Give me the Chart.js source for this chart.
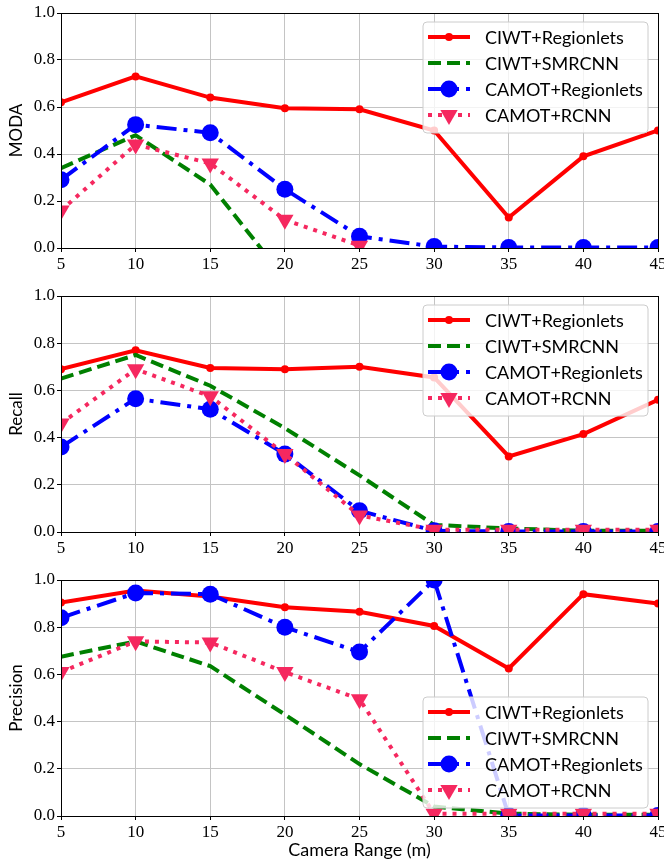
<!DOCTYPE html>
<html>
<head>
<meta charset="utf-8">
<script src="https://cdn.jsdelivr.net/npm/chart.js@4.4.0/dist/chart.umd.min.js"></script>
<style>
  html, body { margin: 0; padding: 0; background: #fff; width: 664px; height: 865px; overflow: hidden; }
  .panel { position: absolute; left: 0; width: 680px; }
</style>
</head>
<body>
<div class="panel" style="top:0;height:282px"><canvas id="modaChart" width="680" height="282"></canvas></div>
<div class="panel" style="top:282px;height:284px"><canvas id="recallChart" width="680" height="284"></canvas></div>
<div class="panel" style="top:566px;height:299px"><canvas id="precisionChart" width="680" height="299"></canvas></div>
<script>
// Camera range (m) on the x axis
const ranges = [5, 10, 15, 20, 25, 30, 35, 40, 45];
const yTicks = [0, 0.2, 0.4, 0.6, 0.8, 1.0];
const methods = ['CIWT+Regionlets', 'CIWT+SMRCNN', 'CAMOT+Regionlets', 'CAMOT+RCNN'];

// MODA (SMRCNN and RCNN drop below zero, out of view)
const modaCiwtRegionlets  = [0.62, 0.73, 0.64, 0.595, 0.59, 0.50, 0.13, 0.39, 0.50];
const modaCiwtSmrcnn      = [0.34, 0.48, 0.27, -0.13, -0.6, -1.1, -1.4, -1.6, -1.7];
const modaCamotRegionlets = [0.29, 0.525, 0.49, 0.25, 0.05, 0.006, 0.002, 0.002, 0.002];
const modaCamotRcnn       = [0.16, 0.44, 0.36, 0.12, 0.01, -0.3, -0.5, -0.6, -0.6];

// Recall
const recallCiwtRegionlets  = [0.69, 0.77, 0.695, 0.69, 0.70, 0.655, 0.32, 0.415, 0.56];
const recallCiwtSmrcnn      = [0.65, 0.75, 0.62, 0.44, 0.24, 0.03, 0.015, 0.005, 0.005];
const recallCamotRegionlets = [0.36, 0.565, 0.52, 0.33, 0.09, 0.005, 0.002, 0.002, 0.002];
const recallCamotRcnn       = [0.46, 0.69, 0.575, 0.33, 0.07, 0.01, 0.01, 0.01, 0.01];

// Precision
const precCiwtRegionlets  = [0.905, 0.955, 0.93, 0.885, 0.865, 0.805, 0.625, 0.94, 0.90];
const precCiwtSmrcnn      = [0.675, 0.74, 0.635, 0.43, 0.22, 0.04, 0.01, 0.005, 0.005];
const precCamotRegionlets = [0.84, 0.945, 0.94, 0.80, 0.695, 1.0, 0.002, 0.002, 0.002];
const precCamotRcnn       = [0.61, 0.74, 0.735, 0.61, 0.495, 0.01, 0.01, 0.01, 0.01];

const styles = [
  { color: '#ff0000', dash: [], radius: 4, shape: 'circle' },
  { color: '#008000', dash: [13, 6], radius: 0, shape: 'circle' },
  { color: '#0000ff', dash: [20, 7, 4, 7], radius: 8.5, shape: 'circle' },
  { color: '#f5285f', dash: [4, 6], radius: 10, shape: 'triangleDown' }
];

function makeDatasets(seriesList) {
  return seriesList.map((vals, i) => ({
    label: methods[i],
    data: vals.map((v, j) => ({ x: ranges[j], y: v })),
    order: seriesList.length - 1 - i, // later series on top, as in the original
    borderColor: styles[i].color,
    backgroundColor: styles[i].color,
    borderWidth: 4,
    borderDash: styles[i].dash,
    pointRadius: styles[i].radius,
    pointHoverRadius: styles[i].radius,
    pointStyle: styles[i].shape === 'triangleDown' ? 'triangle' : 'circle',
    pointRotation: styles[i].shape === 'triangleDown' ? 180 : 0,
    pointBorderWidth: 0,
    tension: 0
  }));
}

function drawMarker(ctx, shape, x, y, r) {
  ctx.beginPath();
  if (shape === 'triangleDown') {
    ctx.moveTo(x, y + r);
    ctx.lineTo(x - r * 0.866, y - r * 0.5);
    ctx.lineTo(x + r * 0.866, y - r * 0.5);
    ctx.closePath();
  } else {
    ctx.arc(x, y, r, 0, Math.PI * 2);
  }
  ctx.fill();
}

// legend drawn inside the plot area, like matplotlib
const insideLegend = {
  id: 'insideLegend',
  afterDatasetsDraw(chart, args, opts) {
    const { ctx, chartArea: a } = chart;
    const w = 225, h = 111;
    const x = a.right - 10 - w;
    const y = opts.position === 'bottom' ? a.bottom - 8 - h : a.top + 9;
    ctx.save();
    ctx.beginPath();
    ctx.roundRect(x, y, w, h, 4);
    ctx.fillStyle = 'rgba(255,255,255,0.8)';
    ctx.fill();
    ctx.strokeStyle = '#cccccc';
    ctx.lineWidth = 1;
    ctx.stroke();
    methods.forEach((name, i) => {
      const cy = y + 15 + i * 26;
      const s = styles[i];
      ctx.beginPath();
      ctx.setLineDash(s.dash);
      ctx.strokeStyle = s.color;
      ctx.lineWidth = 4;
      ctx.moveTo(x + 5, cy);
      ctx.lineTo(x + 47, cy);
      ctx.stroke();
      ctx.setLineDash([]);
      if (s.radius > 0) {
        ctx.fillStyle = s.color;
        drawMarker(ctx, s.shape, x + 26, cy, s.radius);
      }
      ctx.fillStyle = '#000';
      ctx.font = '18px Lato';
      ctx.textBaseline = 'middle';
      ctx.textAlign = 'left';
      ctx.fillText(name, x + 62, cy + 1);
    });
    ctx.restore();
  }
};

// black frame round the axes
const axesFrame = {
  id: 'axesFrame',
  afterDraw(chart) {
    const { ctx, chartArea: a } = chart;
    ctx.save();
    ctx.strokeStyle = '#000';
    ctx.lineWidth = 1;
    ctx.strokeRect(Math.round(a.left) + 0.5, Math.round(a.top) + 0.5, Math.round(a.right - a.left), Math.round(a.bottom - a.top));
    ctx.restore();
  }
};

function makeChart(id, yTitle, seriesList, legendPos, xTitle, padTop, xHeight) {
  const ctx = document.getElementById(id).getContext('2d');
  return new Chart(ctx, {
    type: 'line',
    data: { datasets: makeDatasets(seriesList) },
    plugins: [insideLegend, axesFrame],
    options: {
      responsive: false,
      animation: false,
      layout: { padding: { top: padTop, right: 22, left: 0, bottom: 0 } },
      plugins: {
        legend: { display: false },
        tooltip: { enabled: false },
        insideLegend: { position: legendPos }
      },
      scales: {
        x: {
          type: 'linear',
          min: ranges[0],
          max: ranges[ranges.length - 1],
          afterBuildTicks: s => { s.ticks = ranges.map(v => ({ value: v })); },
          afterFit: s => { s.height = xHeight; },
          grid: { color: '#c4c4c4', tickColor: '#000', tickLength: 4 },
          border: { color: '#000' },
          ticks: { color: '#000', padding: 2, maxRotation: 0, font: { family: 'Liberation Serif', size: 17 } },
          title: {
            display: !!xTitle,
            text: xTitle || '',
            color: '#000',
            padding: { top: 0, bottom: 4 },
            font: { family: 'Lato', size: 18 }
          }
        },
        y: {
          min: 0,
          max: 1,
          afterBuildTicks: s => { s.ticks = yTicks.map(v => ({ value: v })); },
          afterFit: s => { s.width = 61; },
          grid: { color: '#c4c4c4', tickColor: '#000', tickLength: 4 },
          border: { color: '#000' },
          ticks: {
            color: '#000',
            padding: 2,
            font: { family: 'Liberation Serif', size: 17 },
            callback: v => v.toFixed(1)
          },
          title: {
            display: true,
            text: yTitle,
            color: '#000',
            padding: { top: 6, bottom: 0 },
            font: { family: 'Lato', size: 17 }
          }
        }
      }
    }
  });
}

document.addEventListener('DOMContentLoaded', function() {
  makeChart('modaChart', 'MODA',
    [modaCiwtRegionlets, modaCiwtSmrcnn, modaCamotRegionlets, modaCamotRcnn], 'top', null, 13, 34);
  makeChart('recallChart', 'Recall',
    [recallCiwtRegionlets, recallCiwtSmrcnn, recallCamotRegionlets, recallCamotRcnn], 'top', null, 14, 34);
  makeChart('precisionChart', 'Precision',
    [precCiwtRegionlets, precCiwtSmrcnn, precCamotRegionlets, precCamotRcnn], 'bottom', 'Camera Range (m)', 14, 49);
});
</script>
</body>
</html>
